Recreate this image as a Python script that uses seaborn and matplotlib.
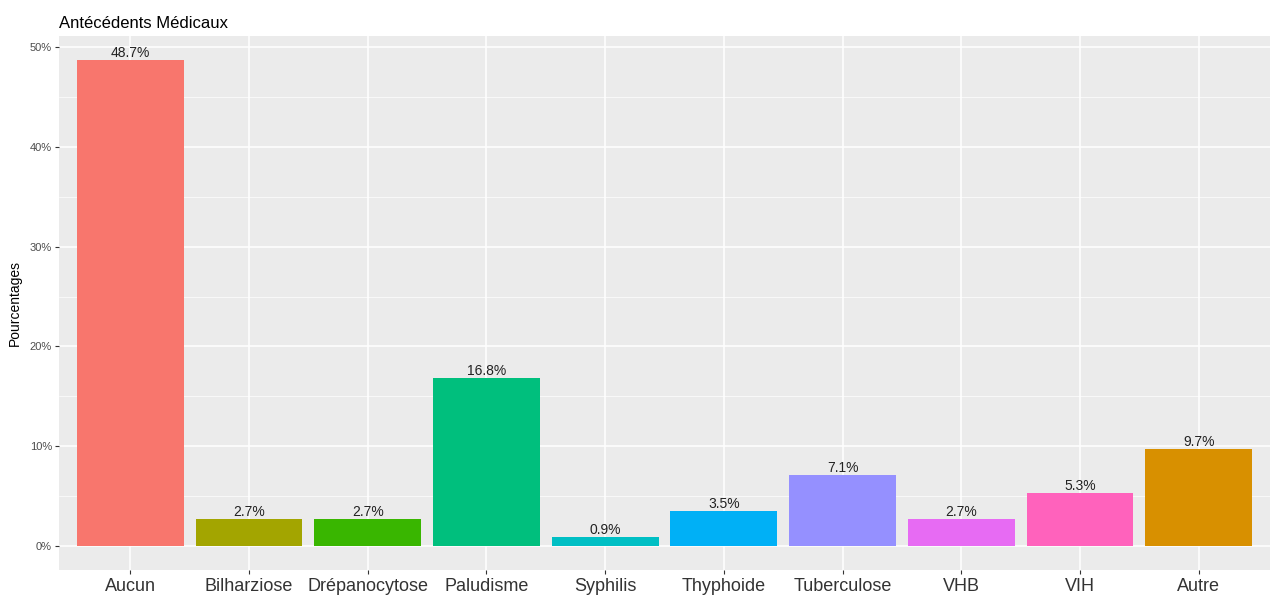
import matplotlib
matplotlib.use("Agg")
import matplotlib.pyplot as plt
import seaborn as sns
import pandas as pd
from matplotlib.ticker import MultipleLocator, FuncFormatter

categories = ["Aucun", "Bilharziose", "Drépanocytose", "Paludisme", "Syphilis",
              "Thyphoide", "Tuberculose", "VHB", "VIH", "Autre"]
values = [48.7, 2.7, 2.7, 16.8, 0.9, 3.5, 7.1, 2.7, 5.3, 9.7]
colors = ["#F8766D", "#A3A500", "#39B600", "#00BF7D", "#00BFC4",
          "#00B0F6", "#9590FF", "#E76BF3", "#FF62BC", "#D89000"]

df = pd.DataFrame({"cat": categories, "val": values})

sns.set_theme(style="darkgrid")
plt.rcParams['font.family'] = ['Liberation Sans', 'DejaVu Sans']

fig = plt.figure(figsize=(12.74, 5.97), dpi=100)
ax = fig.add_axes([59/1274, 27/597, (1270-59)/1274, (570-36)/597])
ax.set_facecolor("#EBEBEB")

sns.barplot(data=df, x="cat", y="val", hue="cat", palette=colors, order=categories,
            hue_order=categories, width=0.9, legend=False, ax=ax, saturation=1,
            edgecolor="none", zorder=3)

ax.set_xlim(-0.6, len(categories) - 0.4)
ax.set_ylim(-2.435, 51.135)
ax.yaxis.set_major_locator(MultipleLocator(10))
ax.yaxis.set_minor_locator(MultipleLocator(5))
ax.yaxis.set_major_formatter(FuncFormatter(lambda v, p: f"{int(v)}%"))
ax.grid(True, which="major", color="white", linewidth=1.1, zorder=0)
ax.grid(True, which="minor", axis="y", color="white", linewidth=0.5, zorder=0)
ax.set_axisbelow(True)
for s in ax.spines.values():
    s.set_visible(False)

for i, v in enumerate(values):
    ax.text(i, v, f"{v:.1f}%", ha="center", va="bottom", fontsize=10, color="#222222")

ax.tick_params(axis="x", labelsize=13, colors="#4D4D4D", length=3, width=0.8, pad=3,
               bottom=True, color="#333333")
ax.tick_params(axis="y", labelsize=8, colors="#4D4D4D", length=3, width=0.8, pad=2,
               left=True, color="#333333")
for lbl in ax.get_xticklabels():
    lbl.set_color("#333333")
ax.set_xlabel("")
ax.set_ylabel("Pourcentages", fontsize=10, color="black", labelpad=6)
ax.set_title("Antécédents Médicaux", loc="left", fontsize=12, color="black", pad=6)

fig.savefig("out.png", dpi=100, facecolor="white")
